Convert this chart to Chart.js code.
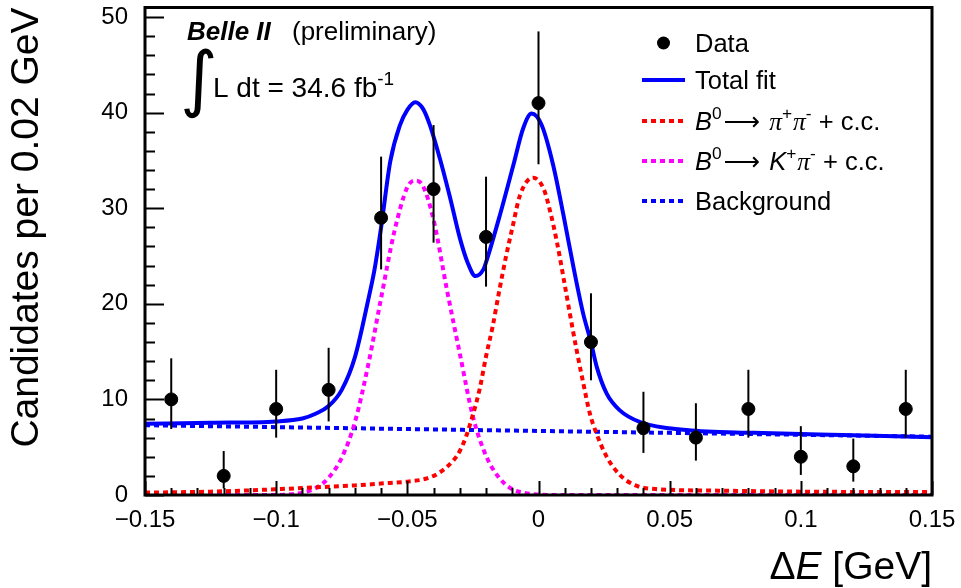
<!DOCTYPE html>
<html>
<head>
<meta charset="utf-8">
<script src="https://cdn.jsdelivr.net/npm/chart.js@4.4.0/dist/chart.umd.min.js"></script>
<style>
  html, body { margin: 0; padding: 0; background: #fff; }
</style>
</head>
<body>
<canvas id="deltaE" width="961" height="588"></canvas>
<script>
// data points (bin centres) and their error bar ends
const binCenters = [-0.14, -0.12, -0.10, -0.08, -0.06, -0.04, -0.02, 0.0, 0.02, 0.04, 0.06, 0.08, 0.10, 0.12, 0.14];
const counts     = [10, 2, 9, 11, 29, 32, 27, 41, 16, 7, 6, 9, 4, 3, 9];
const barLow     = [6.9, 0.7, 6.0, 7.7, 23.6, 26.4, 21.8, 34.6, 12.0, 4.4, 3.6, 6.0, 2.1, 1.4, 6.0];
const barHigh    = [14.3, 4.6, 13.1, 15.4, 35.4, 38.7, 33.3, 48.5, 21.1, 10.8, 9.6, 13.1, 7.2, 5.9, 13.1];

// total fit curve
const totalX = [-0.15, -0.125, -0.1, -0.09, -0.085, -0.08, -0.075, -0.07, -0.065, -0.0625, -0.06, -0.0565, -0.0528, -0.05, -0.047, -0.044, -0.0414, -0.0376, -0.0337, -0.03, -0.027, -0.024, -0.021, -0.0197, -0.0147, -0.0096, -0.0058, -0.0026, 0.0012, 0.0056, 0.0095, 0.0135, 0.0171, 0.0199, 0.0222, 0.026, 0.031, 0.039, 0.0565, 0.082, 0.12, 0.15];
const totalY = [7.45, 7.55, 7.7, 8.0, 8.5, 9.3, 11.0, 14.4, 20.3, 23.6, 28.0, 34.9, 38.7, 40.3, 41.1, 40.4, 38.7, 35.2, 31.1, 26.9, 24.3, 22.9, 23.6, 24.6, 29.3, 34.5, 38.4, 39.9, 38.7, 34.5, 29.3, 23.6, 18.9, 16.1, 13.4, 10.6, 8.85, 7.6, 6.8, 6.5, 6.25, 6.05];

// B0 -> pi+ pi- component
const pipiX = [-0.15, -0.125, -0.1, -0.085, -0.07, -0.06, -0.05, -0.043, -0.038, -0.0325, -0.03, -0.0275, -0.025, -0.0225, -0.02, -0.0175, -0.015, -0.0125, -0.01, -0.007, -0.002, 0.002, 0.0045, 0.007, 0.01, 0.012, 0.0145, 0.017, 0.0195, 0.022, 0.026, 0.031, 0.037, 0.046, 0.07, 0.1, 0.15];
const pipiY = [0.25, 0.35, 0.6, 0.8, 1.0, 1.2, 1.4, 1.7, 2.3, 3.6, 4.6, 6.2, 8.4, 11.0, 14.5, 17.6, 21.3, 24.8, 27.9, 31.4, 33.2, 32.0, 29.6, 26.5, 22.0, 18.9, 15.2, 11.8, 8.6, 6.5, 4.0, 2.1, 1.0, 0.6, 0.45, 0.35, 0.3];

// B0 -> K+ pi- component
const kpiX = [-0.15, -0.1, -0.09, -0.085, -0.08, -0.075, -0.07, -0.065, -0.06, -0.055, -0.05, -0.047, -0.044, -0.04, -0.035, -0.03, -0.025, -0.02, -0.015, -0.01, -0.005, 0.0, 0.005, 0.15];
const kpiY = [0, 0, 0.25, 0.7, 1.8, 3.9, 7.6, 13.5, 20.6, 27.5, 32.2, 32.9, 32.3, 28.8, 21.6, 14.8, 8.2, 4.1, 1.8, 0.6, 0.2, 0.05, 0, 0];

// background
const bkgX = [-0.15, -0.1, -0.05, 0.0, 0.05, 0.1, 0.15];
const bkgY = [7.3, 7.1, 6.9, 6.7, 6.5, 6.3, 6.1];

// axes
const xTickVals = [-0.15, -0.1, -0.05, 0, 0.05, 0.1, 0.15];
const yTickVals = [0, 10, 20, 30, 40, 50];
const xMinorStep = 0.01;
const yMinorStep = 2;

const sans = 'Liberation Sans';

function pts(xs, ys) {
    return xs.map((x, i) => ({ x: x, y: ys[i] }));
}

function curve(xs, ys, color, dash, width) {
    return {
        data: pts(xs, ys),
        showLine: true,
        borderColor: color,
        borderWidth: width,
        borderDash: dash,
        pointRadius: 0,
        cubicInterpolationMode: 'monotone',
        fill: false
    };
}

// draws a run of text pieces (italic / superscript) one after another
function drawRich(ctx, segs, x, y, size) {
    segs.forEach(s => {
        const fs = s.sup ? size * 0.68 : size;
        ctx.font = (s.it ? 'italic ' : '') + fs + 'px ' + (s.fam || sans);
        const dy = s.sup ? -size * 0.42 : 0;
        ctx.fillText(s.t, x, y + dy);
        x += ctx.measureText(s.t).width + (s.gap || 0);
    });
    return x;
}

function richWidth(ctx, segs, size) {
    let w = 0;
    segs.forEach(s => {
        const fs = s.sup ? size * 0.68 : size;
        ctx.font = (s.it ? 'italic ' : '') + fs + 'px ' + (s.fam || sans);
        w += ctx.measureText(s.t).width + (s.gap || 0);
    });
    return w;
}

// no extra room for half labels, keep the frame where the picture has it
function noPad(s) {
    s.paddingTop = 0;
    s.paddingBottom = 0;
    s.paddingLeft = 0;
    s.paddingRight = 0;
}

const errorBars = {
    id: 'errorBars',
    beforeDatasetDraw(chart, args) {
        if (args.index !== 0) return;
        const ctx = chart.ctx, xs = chart.scales.x, ys = chart.scales.y;
        ctx.save();
        ctx.strokeStyle = '#000';
        ctx.lineWidth = 2;
        binCenters.forEach((b, i) => {
            const px = xs.getPixelForValue(b);
            ctx.beginPath();
            ctx.moveTo(px, ys.getPixelForValue(barLow[i]));
            ctx.lineTo(px, ys.getPixelForValue(barHigh[i]));
            ctx.stroke();
        });
        ctx.restore();
    }
};

const frameAndText = {
    id: 'frameAndText',
    afterDraw(chart) {
        const ctx = chart.ctx, a = chart.chartArea;
        const xs = chart.scales.x, ys = chart.scales.y;
        ctx.save();
        ctx.strokeStyle = '#000';

        // inward tick marks
        ctx.lineWidth = 2;
        for (let v = yTickVals[0]; v <= ys.max + 1e-9; v += yMinorStep) {
            const major = yTickVals.some(t => Math.abs(t - v) < 1e-6);
            const py = Math.round(ys.getPixelForValue(v)) + 0.5;
            ctx.beginPath();
            ctx.moveTo(a.left, py);
            ctx.lineTo(a.left + (major ? 19 : 10), py);
            ctx.stroke();
        }
        for (let k = 0; ; k++) {
            const v = xs.min + k * xMinorStep;
            if (v > xs.max + 1e-9) break;
            const major = xTickVals.some(t => Math.abs(t - v) < 1e-6);
            const px = Math.round(xs.getPixelForValue(v)) + 0.5;
            ctx.beginPath();
            ctx.moveTo(px, a.bottom);
            ctx.lineTo(px, a.bottom - (major ? 14 : 7));
            ctx.stroke();
        }

        // frame
        ctx.lineWidth = 3;
        ctx.strokeRect(a.left, a.top, a.right - a.left, a.bottom - a.top);

        ctx.fillStyle = '#000';
        ctx.textBaseline = 'alphabetic';
        ctx.textAlign = 'left';

        // axis titles
        const xTitle = [{ t: '\u0394' }, { t: 'E', it: true }, { t: ' [GeV]' }];
        const w = richWidth(ctx, xTitle, 39);
        drawRich(ctx, xTitle, a.right - w, 579, 39);

        ctx.save();
        ctx.translate(27.5, a.top);
        ctx.rotate(-Math.PI / 2);
        ctx.textAlign = 'right';
        ctx.textBaseline = 'middle';
        ctx.font = '39px ' + sans;
        ctx.fillText('Candidates per 0.02 GeV', 0, 0);
        ctx.restore();

        // experiment label
        ctx.font = 'italic bold 26px ' + sans;
        ctx.fillText('Belle II', 187, 40);
        ctx.font = '26px ' + sans;
        ctx.fillText('(preliminary)', 292, 40);
        ctx.font = '72px "DejaVu Sans"';
        ctx.textBaseline = 'middle';
        ctx.fillText('\u222B', 180, 84);
        ctx.textBaseline = 'alphabetic';
        drawRich(ctx, [{ t: 'L dt = 34.6 fb' }, { t: '-1', sup: true }], 213, 97, 28);

        // legend
        const lx0 = 642, lx1 = 685, tx = 695, fs = 25.5;
        const rows = [43, 80, 121, 161, 201];
        ctx.beginPath();
        ctx.arc((lx0 + lx1) / 2, rows[0], 6.5, 0, Math.PI * 2);
        ctx.fill();
        const lineRow = (y, color, dash) => {
            ctx.strokeStyle = color;
            ctx.lineWidth = 4;
            ctx.setLineDash(dash);
            ctx.beginPath();
            ctx.moveTo(lx0, y);
            ctx.lineTo(lx1, y);
            ctx.stroke();
            ctx.setLineDash([]);
        };
        lineRow(rows[1], '#0000ff', []);
        lineRow(rows[2], '#ff0000', [5, 4]);
        lineRow(rows[3], '#ff00ff', [5, 4]);
        lineRow(rows[4], '#0000ff', [5, 4]);

        const base = y => y + fs * 0.36;
        const arrow = { t: '\u27F6', fam: '"DejaVu Sans"', gap: 9 };
        drawRich(ctx, [{ t: 'Data' }], tx, base(rows[0]), fs);
        drawRich(ctx, [{ t: 'Total fit' }], tx, base(rows[1]), fs);
        drawRich(ctx, [
            { t: 'B', it: true }, { t: '0', sup: true, gap: 2 }, arrow,
            { t: '\u03C0', it: true, fam: 'Liberation Serif' }, { t: '+', sup: true, gap: 1 },
            { t: '\u03C0', it: true, fam: 'Liberation Serif' }, { t: '-', sup: true },
            { t: ' + c.c.' }
        ], tx, base(rows[2]), fs);
        drawRich(ctx, [
            { t: 'B', it: true }, { t: '0', sup: true, gap: 2 }, arrow,
            { t: 'K', it: true }, { t: '+', sup: true, gap: 1 },
            { t: '\u03C0', it: true, fam: 'Liberation Serif' }, { t: '-', sup: true },
            { t: ' + c.c.' }
        ], tx, base(rows[3]), fs);
        drawRich(ctx, [{ t: 'Background' }], tx, base(rows[4]), fs);

        ctx.restore();
    }
};

const ctx = document.getElementById('deltaE').getContext('2d');
new Chart(ctx, {
    type: 'scatter',
    data: {
        datasets: [
            {
                label: 'Data',
                data: pts(binCenters, counts),
                backgroundColor: '#000',
                borderColor: '#000',
                pointRadius: 6.5,
                showLine: false
            },
            curve(totalX, totalY, '#0000ff', [], 4),
            curve(pipiX, pipiY, '#ff0000', [5, 4], 4),
            curve(kpiX, kpiY, '#ff00ff', [5, 4], 4),
            curve(bkgX, bkgY, '#0000ff', [5, 4], 4)
        ]
    },
    options: {
        responsive: false,
        animation: false,
        devicePixelRatio: 1,
        layout: { padding: { top: 5, right: 29, left: 0, bottom: 0 } },
        plugins: {
            legend: { display: false },
            tooltip: { enabled: false }
        },
        scales: {
            x: {
                type: 'linear',
                min: -0.15,
                max: 0.15,
                afterBuildTicks: s => { s.ticks = xTickVals.map(v => ({ value: v })); },
                afterFit: s => { s.height = 93; noPad(s); },
                grid: { display: false, drawTicks: false },
                border: { display: false },
                ticks: {
                    autoSkip: false,
                    maxRotation: 0,
                    padding: 11,
                    color: '#000',
                    font: { family: sans, size: 24 },
                    callback: v => {
                        const r = Math.round(v * 100) / 100;
                        return r === 0 ? '0' : String(r).replace('-', '\u2212');
                    }
                }
            },
            y: {
                type: 'linear',
                min: 0,
                max: 51,
                afterBuildTicks: s => { s.ticks = yTickVals.map(v => ({ value: v })); },
                afterFit: s => { s.width = 145; noPad(s); },
                grid: { display: false, drawTicks: false },
                border: { display: false },
                ticks: {
                    padding: 17,
                    color: '#000',
                    font: { family: sans, size: 24 }
                }
            }
        }
    },
    plugins: [errorBars, frameAndText]
});
</script>
</body>
</html>
